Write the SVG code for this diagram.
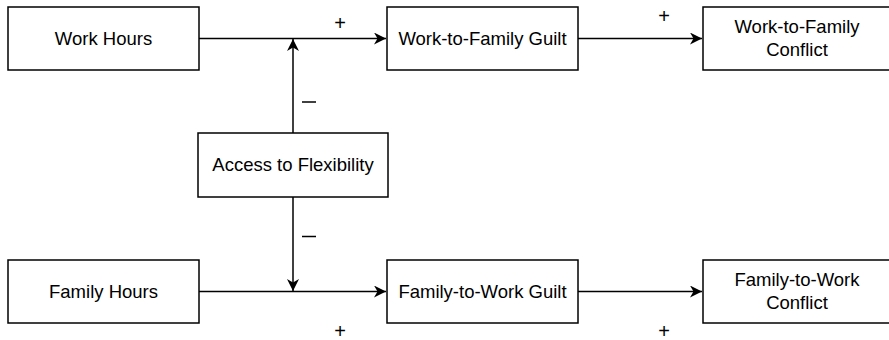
<svg xmlns="http://www.w3.org/2000/svg" width="889" height="340" viewBox="0 0 889 340">
<defs>
<style>
.box{fill:#fff;stroke:#000;stroke-width:1.5}
.t{font-family:"Liberation Sans",Arial,sans-serif;font-size:18.5px;fill:#000;text-anchor:middle}
.pl{font-family:"Liberation Sans",Arial,sans-serif;font-size:20px;fill:#000000;text-anchor:middle}
.e{fill:none;stroke:#000;stroke-width:1.5}
</style>
<marker id="ah" markerUnits="userSpaceOnUse" markerWidth="14" markerHeight="12" refX="12" refY="6" orient="auto">
<path d="M0,0 L12,6 L0,12 L3.5,6 z" fill="#000"/>
</marker>
</defs>
<rect width="889" height="340" fill="#fff"/>
<g id="connectors">
<line class="e" x1="199" y1="38.5" x2="386" y2="38.5" marker-end="url(#ah)"/>
<line class="e" x1="293" y1="133" x2="293" y2="39" marker-end="url(#ah)"/>
<line class="e" x1="578" y1="38.5" x2="702" y2="38.5" marker-end="url(#ah)"/>
<line class="e" x1="199" y1="291.5" x2="386" y2="291.5" marker-end="url(#ah)"/>
<line class="e" x1="293" y1="197" x2="293" y2="291" marker-end="url(#ah)"/>
<line class="e" x1="578" y1="291.5" x2="702" y2="291.5" marker-end="url(#ah)"/>
<text class="pl" x="340" y="30">+</text>
<text class="pl" x="664" y="23">+</text>
<text class="pl" x="340" y="338">+</text>
<text class="pl" x="664" y="338">+</text>
<line x1="302" y1="102" x2="316" y2="102" stroke="#000" stroke-width="1.5"/>
<line x1="302" y1="236.5" x2="316" y2="236.5" stroke="#000" stroke-width="1.5"/>
</g>
<g id="work-hours"><rect class="box" x="8" y="7" width="191" height="63"/><text class="t" x="103.5" y="45">Work Hours</text></g>
<g id="wf-guilt"><rect class="box" x="387" y="7" width="191" height="63"/><text class="t" x="482.5" y="45">Work-to-Family Guilt</text></g>
<g id="wf-conflict"><rect class="box" x="703" y="7" width="191" height="63"/><text class="t" x="797" y="33">Work-to-Family</text><text class="t" x="797" y="56">Conflict</text></g>
<g id="access"><rect class="box" x="198" y="133" width="190" height="64"/><text class="t" x="293" y="171">Access to Flexibility</text></g>
<g id="family-hours"><rect class="box" x="8" y="260" width="191" height="63"/><text class="t" x="103.5" y="298">Family Hours</text></g>
<g id="fw-guilt"><rect class="box" x="387" y="260" width="191" height="63"/><text class="t" x="482.5" y="298">Family-to-Work Guilt</text></g>
<g id="fw-conflict"><rect class="box" x="703" y="260" width="191" height="63"/><text class="t" x="797" y="286">Family-to-Work</text><text class="t" x="797" y="309">Conflict</text></g>
</svg>
